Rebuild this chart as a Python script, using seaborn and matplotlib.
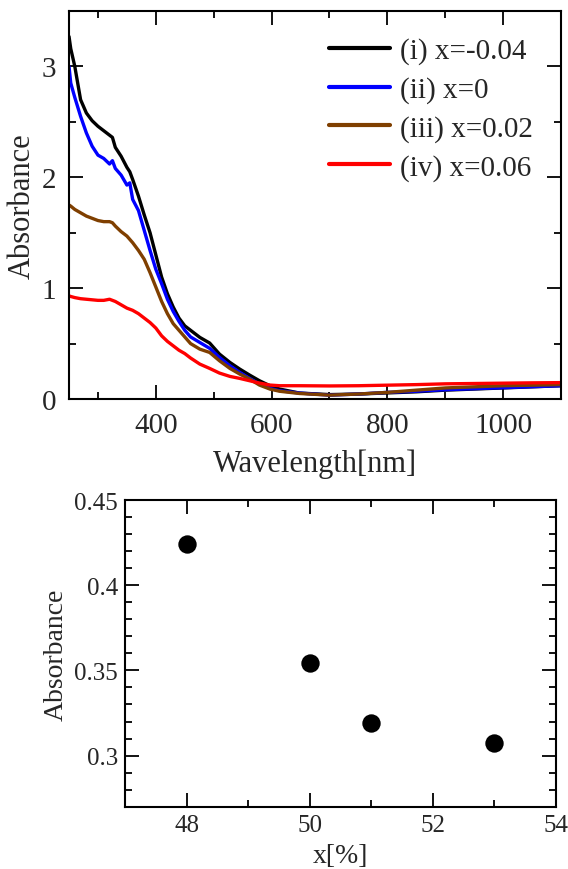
import numpy as np
import pandas as pd
import matplotlib
matplotlib.use("Agg")
import matplotlib.pyplot as plt
from matplotlib.ticker import MultipleLocator
import seaborn as sns

# ---------------- data ----------------
wavelength = [250, 253, 260, 270, 280, 290, 300, 310, 320, 325, 330, 340, 350, 355, 360,
              370, 380, 390, 400, 410, 420, 430, 440, 450, 460, 476, 493, 510, 528, 545,
              562, 579, 597, 614, 648, 700, 750, 800, 850, 900, 950, 1000, 1050, 1100]

abs_i = [3.27, 3.16, 3.00, 2.70, 2.58, 2.51, 2.46, 2.42, 2.38, 2.36, 2.27, 2.19, 2.09, 2.05, 1.98,
         1.83, 1.66, 1.50, 1.30, 1.10, 0.95, 0.83, 0.73, 0.66, 0.62, 0.556, 0.505, 0.405, 0.33, 0.27,
         0.216, 0.165, 0.12, 0.09, 0.054, 0.04, 0.045, 0.055, 0.065, 0.08, 0.09, 0.10, 0.11, 0.12]

abs_ii = [3.00, 2.85, 2.72, 2.55, 2.40, 2.28, 2.20, 2.17, 2.12, 2.15, 2.08, 2.02, 1.93, 1.95, 1.80,
          1.70, 1.52, 1.34, 1.17, 1.04, 0.90, 0.79, 0.70, 0.62, 0.56, 0.51, 0.457, 0.375, 0.30, 0.24,
          0.186, 0.135, 0.096, 0.075, 0.054, 0.035, 0.045, 0.06, 0.07, 0.084, 0.093, 0.102, 0.111, 0.12]

abs_iii = [1.75, 1.74, 1.71, 1.68, 1.65, 1.63, 1.61, 1.60, 1.60, 1.59, 1.56, 1.51, 1.47, 1.44, 1.41,
           1.34, 1.26, 1.14, 1.01, 0.88, 0.77, 0.68, 0.62, 0.56, 0.50, 0.45, 0.42, 0.345, 0.276, 0.225,
           0.18, 0.126, 0.09, 0.07, 0.05, 0.035, 0.045, 0.06, 0.08, 0.10, 0.11, 0.12, 0.125, 0.13]

abs_iv = [0.93, 0.925, 0.915, 0.905, 0.90, 0.895, 0.89, 0.89, 0.90, 0.89, 0.88, 0.85, 0.82, 0.81, 0.80,
          0.77, 0.73, 0.69, 0.64, 0.57, 0.52, 0.48, 0.44, 0.41, 0.37, 0.315, 0.276, 0.234, 0.204, 0.186,
          0.165, 0.144, 0.126, 0.12, 0.12, 0.118, 0.12, 0.125, 0.13, 0.137, 0.14, 0.143, 0.146, 0.148]

labels = ["(i) x=-0.04", "(ii) x=0", "(iii) x=0.02", "(iv) x=0.06"]
colors = ["#000000", "#0000ff", "#7f3f00", "#ff0000"]

x_percent = [48, 50, 51, 53]
abs_x = [0.4243, 0.3543, 0.3193, 0.3072]

# ---------------- style ----------------
sns.set_style("ticks")
plt.rcParams["font.family"] = ["Liberation Serif", "DejaVu Serif"]
plt.rcParams["mathtext.fontset"] = "stix"

fig = plt.figure(figsize=(5.68, 8.70), dpi=100)
ax1 = fig.add_axes([0.1215, 0.5402, 0.8662, 0.4460])
ax2 = fig.add_axes([0.2201, 0.0716, 0.7588, 0.3525])

spec = pd.DataFrame({
    "Wavelength": wavelength * 4,
    "Absorbance": abs_i + abs_ii + abs_iii + abs_iv,
    "Sample": sum([[l] * len(wavelength) for l in labels], []),
})
sns.lineplot(data=spec, x="Wavelength", y="Absorbance", hue="Sample",
             palette=dict(zip(labels, colors)), hue_order=labels,
             linewidth=2.4, ax=ax1, sort=False, estimator=None)

ax1.set_xlim(250, 1100)
ax1.set_ylim(0, 3.5)
ax1.xaxis.set_major_locator(MultipleLocator(200))
ax1.xaxis.set_minor_locator(MultipleLocator(100))
ax1.yaxis.set_major_locator(MultipleLocator(1))
ax1.yaxis.set_minor_locator(MultipleLocator(0.5))
ax1.set_xlabel("Wavelength[nm]", fontsize=22, labelpad=8)
ax1.set_ylabel("Absorbance", fontsize=22, labelpad=4)

leg = ax1.legend(loc="upper right", frameon=False, fontsize=21,
                 handlelength=2.1, handletextpad=0.35, labelspacing=0.41,
                 borderaxespad=0.3, bbox_to_anchor=(0.985, 0.985))
for h in leg.get_lines():
    h.set_linewidth(3)

sns.scatterplot(x=x_percent, y=abs_x, color="black", s=175, edgecolor="black",
                linewidth=0, ax=ax2, zorder=3)
ax2.set_xlim(47, 54)
ax2.set_ylim(0.27, 0.45)
ax2.xaxis.set_major_locator(MultipleLocator(2))
ax2.xaxis.set_minor_locator(MultipleLocator(1))
ax2.yaxis.set_minor_locator(MultipleLocator(0.01))
ax2.set_yticks([0.3, 0.35, 0.4, 0.45])
ax2.set_yticklabels(["0.3", "0.35", "0.4", "0.45"])
ax2.set_xlabel("x[%]", fontsize=20, labelpad=5)
ax2.set_ylabel("Absorbance", fontsize=20, labelpad=4)

for ax, fs, pad in ((ax1, 21, 9), (ax2, 18, 5)):
    ax.tick_params(which="both", direction="in", top=True, right=True, width=1.3,
                   color="black", labelsize=fs)
    ax.tick_params(which="major", length=10, pad=pad)
    ax.tick_params(which="minor", length=5)
    for s in ax.spines.values():
        s.set_linewidth(1.5)
        s.set_color("black")

fig.savefig("out.png", dpi=100)
